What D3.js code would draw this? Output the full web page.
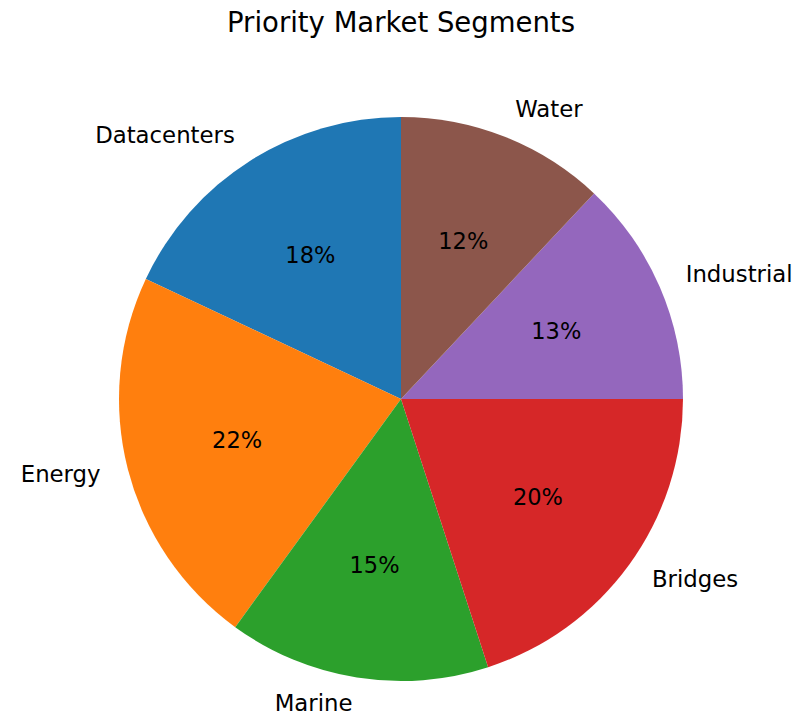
<!DOCTYPE html>
<html>
<head>
<meta charset="utf-8">
<script src="https://cdn.jsdelivr.net/npm/d3@7"></script>
<style>
  html, body { margin: 0; padding: 0; background: #ffffff; }
  svg text { font-family: "DejaVu Sans", sans-serif; fill: #000; }
</style>
</head>
<body>
<svg id="chart" width="799" height="717"></svg>
<script>
// Market segment shares (percent)
const segments = ["Datacenters", "Energy", "Marine", "Bridges", "Industrial", "Water"];
const shares = [18, 22, 15, 20, 13, 12];
const colors = ["#1f77b4", "#ff7f0e", "#2ca02c", "#d62728", "#9467bd", "#8c564b"];
const title = "Priority Market Segments";

const width = 799, height = 717;
const cx = 401, cy = 399, radius = 282;

const svg = d3.select("#chart");

svg.append("text")
  .attr("x", cx)
  .attr("y", 22)
  .attr("text-anchor", "middle")
  .attr("dominant-baseline", "central")
  .style("font-size", "27.5px")
  .text(title);

const data = segments.map((name, i) => ({ name, value: shares[i], color: colors[i] }));

// Counter-clockwise from 12 o'clock
const pie = d3.pie()
  .value(d => d.value)
  .sort(null)
  .startAngle(0)
  .endAngle(-2 * Math.PI);

const arcs = pie(data);
const arc = d3.arc().innerRadius(0).outerRadius(radius);
const pctArc = d3.arc().innerRadius(radius * 0.6).outerRadius(radius * 0.6);

const g = svg.append("g").attr("transform", `translate(${cx},${cy})`);

g.selectAll("path.slice")
  .data(arcs)
  .join("path")
  .attr("class", "slice")
  .attr("d", arc)
  .attr("fill", d => d.data.color);

const total = d3.sum(shares);

g.selectAll("text.pct")
  .data(arcs)
  .join("text")
  .attr("class", "pct")
  .attr("transform", d => {
    const [x, y] = pctArc.centroid(d);
    return `translate(${x},${y - 1})`;
  })
  .attr("text-anchor", "middle")
  .attr("dominant-baseline", "central")
  .style("font-size", "22.5px")
  .text(d => `${Math.round(d.data.value / total * 100)}%`);

g.selectAll("text.label")
  .data(arcs)
  .join("text")
  .attr("class", "label")
  .each(function (d) {
    const a = (d.startAngle + d.endAngle) / 2;
    const x = Math.sin(a) * radius * 1.1;
    const y = -Math.cos(a) * radius * 1.1;
    d3.select(this)
      .attr("x", x)
      .attr("y", y - 2)
      .attr("text-anchor", x >= 0 ? "start" : "end")
      .attr("dominant-baseline", "central");
  })
  .style("font-size", "22.8px")
  .text(d => d.data.name);
</script>
</body>
</html>
